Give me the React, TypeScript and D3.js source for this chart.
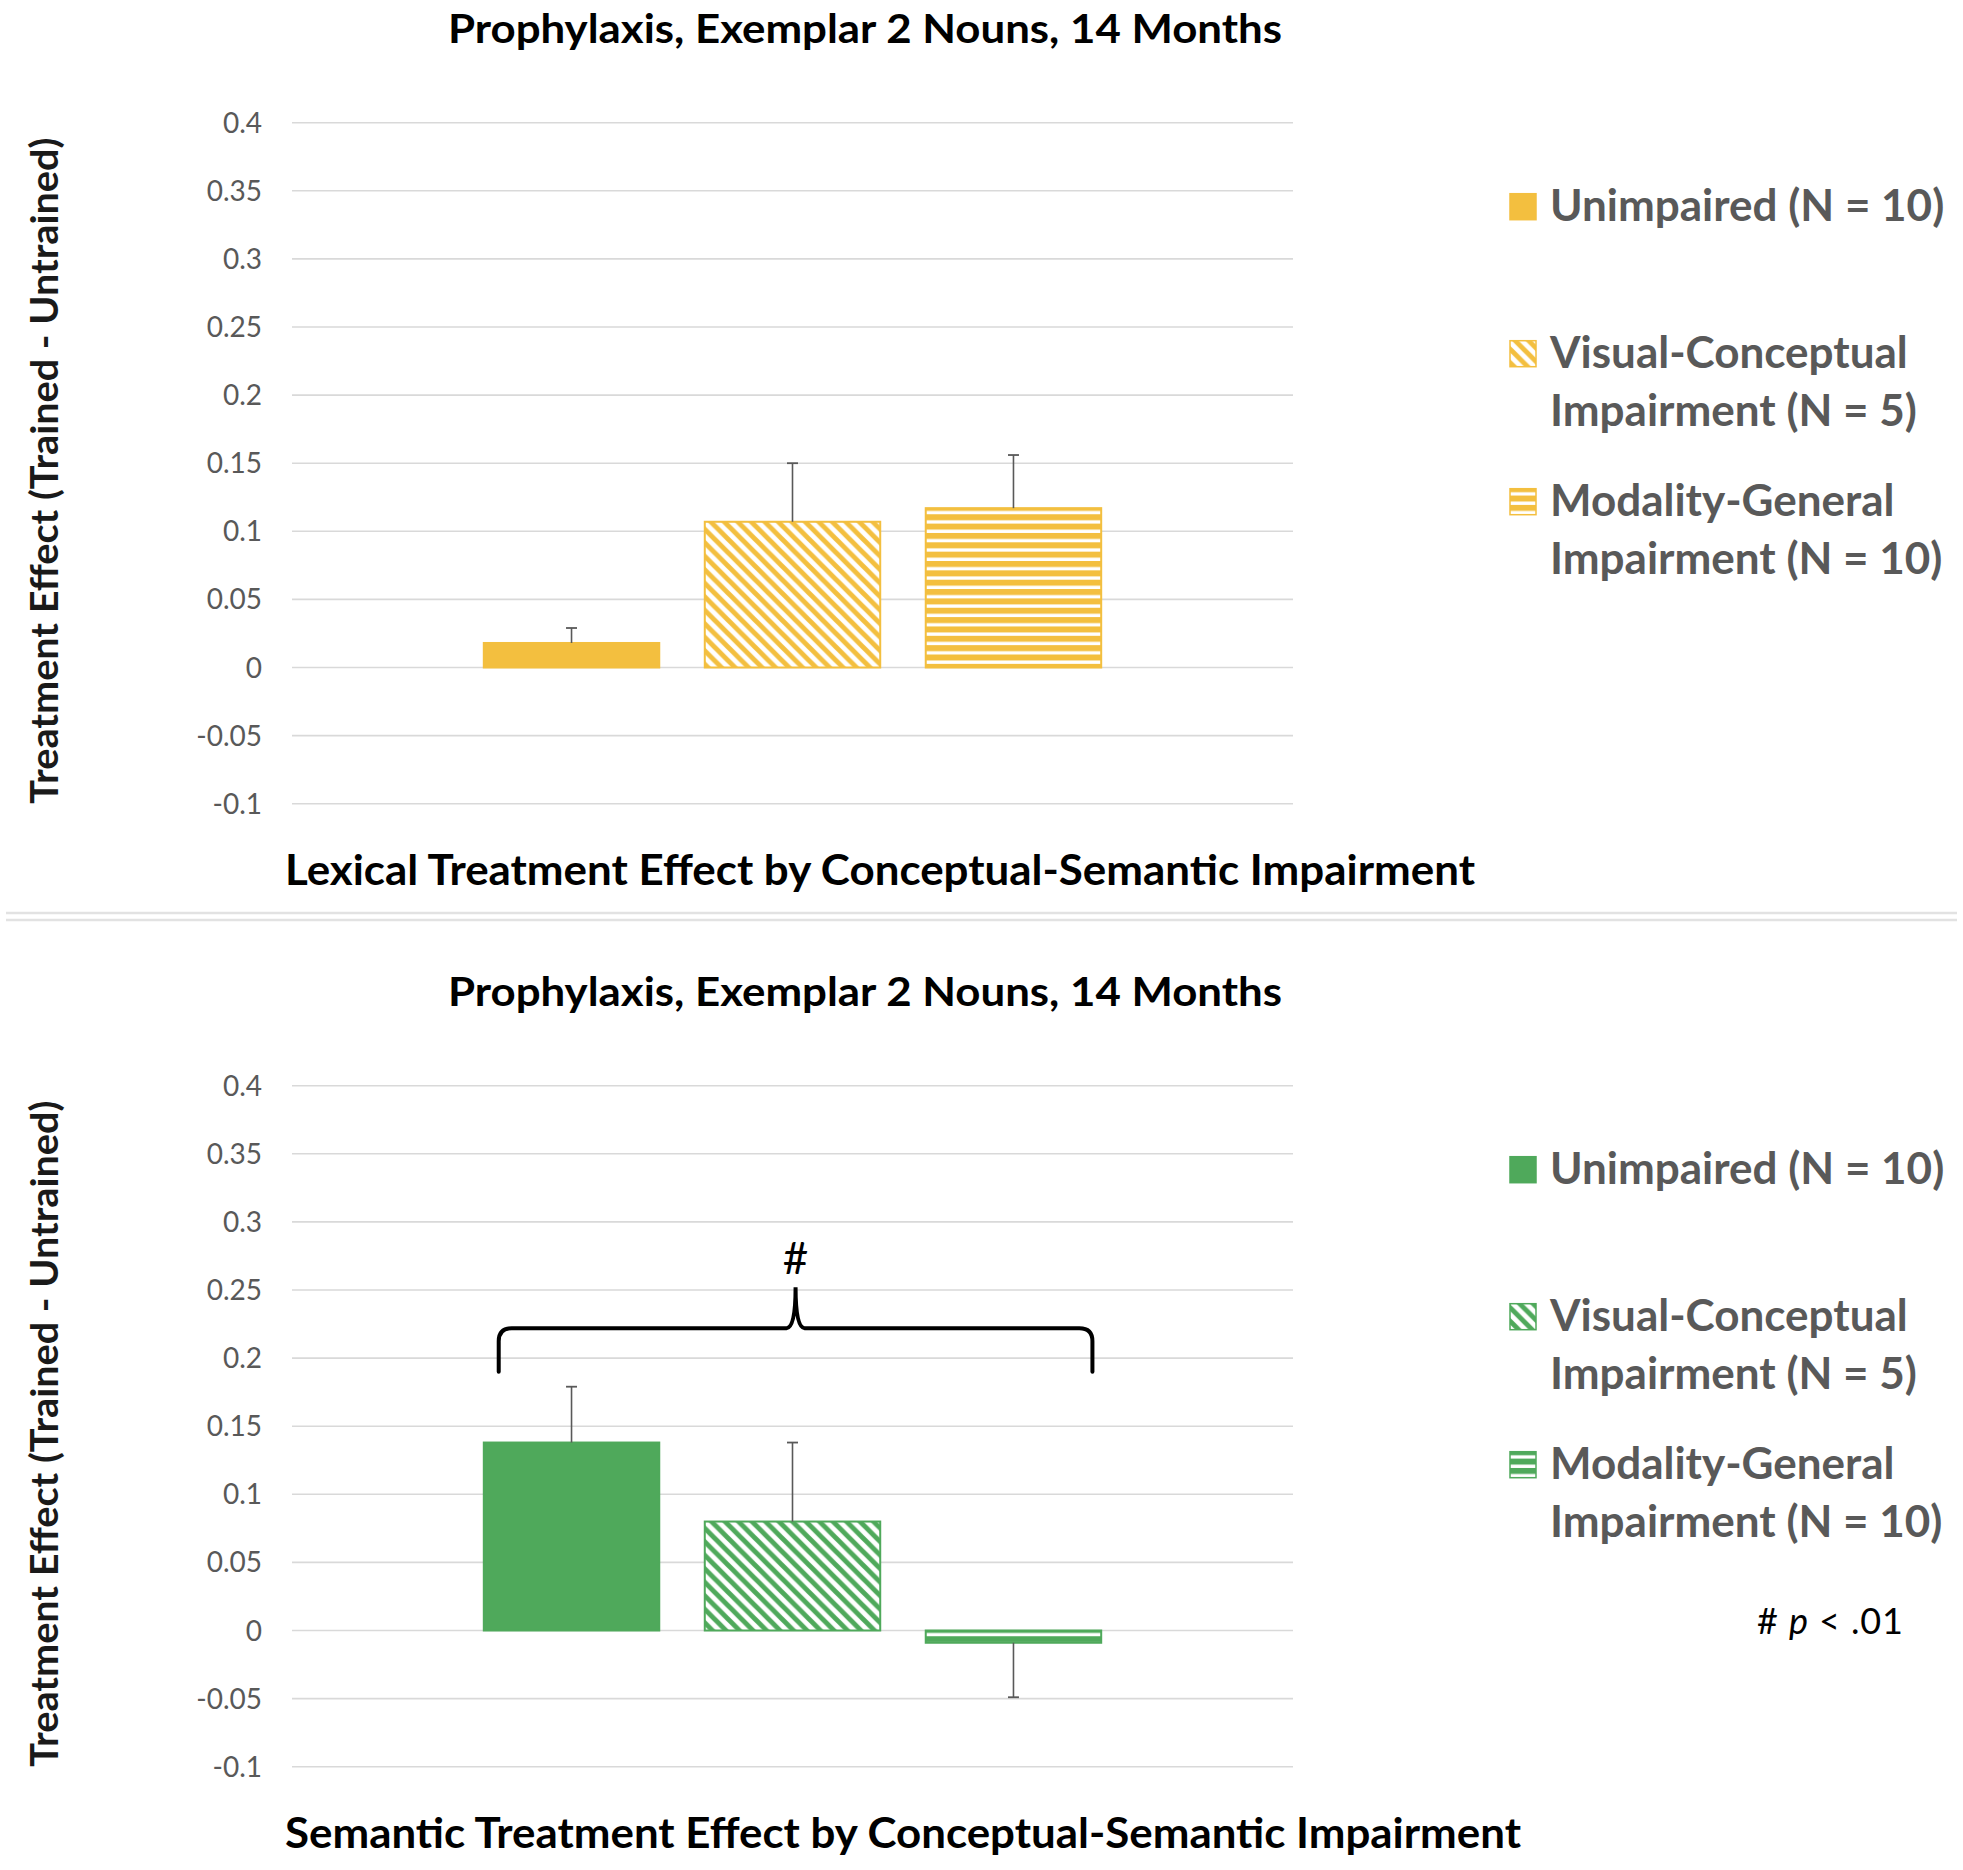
import React, { useEffect } from "react";
import * as d3 from "d3";

const seriesNames = [
  "Unimpaired (N = 10)",
  "Visual-Conceptual Impairment (N = 5)",
  "Modality-General Impairment (N = 10)",
];
const legendLines = [
  ["Unimpaired (N = 10)"],
  ["Visual-Conceptual", "Impairment (N = 5)"],
  ["Modality-General", "Impairment (N = 10)"],
];
const seriesPatterns = ["solid", "diagonal", "horizontal"];

const chartTitle = "Prophylaxis, Exemplar 2 Nouns, 14 Months";
const yAxisTitle = "Treatment Effect (Trained - Untrained)";

const lexicalValues = [0.018, 0.107, 0.117];
const lexicalErrors = [0.011, 0.043, 0.039];
const lexicalTitle = "Lexical Treatment Effect by Conceptual-Semantic Impairment";

const semanticValues = [0.138, 0.08, -0.009];
const semanticErrors = [0.041, 0.058, 0.04];
const semanticTitle = "Semantic Treatment Effect by Conceptual-Semantic Impairment";

const yTicks = [0.4, 0.35, 0.3, 0.25, 0.2, 0.15, 0.1, 0.05, 0, -0.05, -0.1];
const yTickLabels = ["0.4", "0.35", "0.3", "0.25", "0.2", "0.15", "0.1", "0.05", "0", "-0.05", "-0.1"];
const yDomain = [-0.1, 0.4];

// significance brace (semantic panel): levels in data units
const braceLevels = { end: 0.19, bar: 0.222, tip: 0.252, label: 0.262 };
const braceLabel = "#";

const YELLOW = "#F3BF3F";
const GREEN = "#4FA95B";
const FONT = "Lato, 'Open Sans', sans-serif";

function Patterns({ id, color }) {
  const P = 13.5;
  return (
    <>
      <pattern id={`${id}-diag`} patternUnits="userSpaceOnUse" width={P} height={P}>
        <rect width={P} height={P} fill="#fff" />
        <path
          d={`M-4,-4 L${P + 4},${P + 4} M-4,${P - 4} L4,${P + 4} M${P - 4},-4 L${P + 4},4`}
          stroke={color}
          strokeWidth={4.9}
          fill="none"
        />
      </pattern>
      <pattern id={`${id}-horiz`} patternUnits="userSpaceOnUse" width={10} height={9.35}>
        <rect width={10} height={9.35} fill="#fff" />
        <rect y={0} width={10} height={6} fill={color} />
      </pattern>
    </>
  );
}

function fillFor(kind, id, color) {
  if (kind === "diagonal") return `url(#${id}-diag)`;
  if (kind === "horizontal") return `url(#${id}-horiz)`;
  return color;
}

function Panel({ id, top, color, values, errors, xTitle, xTitleWidth, brace, note }) {
  const plotLeft = 292;
  const plotRight = 1293;
  const y = d3.scaleLinear().domain(yDomain).range([top + 681, top]);
  const x = d3
    .scaleBand()
    .domain(seriesNames)
    .range([plotLeft, plotRight])
    .paddingInner(0.206)
    .paddingOuter(0.868);
  const bw = x.bandwidth();

  let bracePath = null;
  let braceX = 0;
  if (brace) {
    const xl = x(seriesNames[0]) + bw * 0.085;
    const xr = x(seriesNames[2]) + bw * 0.95;
    const xm = (xl + xr) / 2;
    braceX = xm;
    const yE = y(braceLevels.end);
    const yB = y(braceLevels.bar);
    const yT = y(braceLevels.tip);
    const r = 13;
    const r2 = 9;
    const p = d3.path();
    p.moveTo(xl, yE);
    p.lineTo(xl, yB + r);
    p.quadraticCurveTo(xl, yB, xl + r, yB);
    p.lineTo(xm - r2, yB);
    p.quadraticCurveTo(xm, yB, xm, yT);
    p.quadraticCurveTo(xm, yB, xm + r2, yB);
    p.lineTo(xr - r, yB);
    p.quadraticCurveTo(xr, yB, xr, yB + r);
    p.lineTo(xr, yE);
    bracePath = p.toString();
  }

  const legendX = 1510;
  const legendTextX = 1550;
  const legendBaselines = [
    [top + 98],
    [top + 245, top + 303],
    [top + 393, top + 451],
  ];

  return (
    <g>
      <defs>
        <Patterns id={id} color={color} />
      </defs>
      <text
        x={448}
        y={top - 80}
        textLength={834}
        lengthAdjust="spacingAndGlyphs"
        fontFamily={FONT}
        fontWeight={700}
        fontSize={41}
        fill="#000"
      >
        {chartTitle}
      </text>
      {yTicks.map((t, i) => (
        <g key={t}>
          <line
            x1={plotLeft}
            x2={plotRight}
            y1={y(t)}
            y2={y(t)}
            stroke="#d9d9d9"
            strokeWidth={1.6}
          />
          <text
            x={262}
            y={y(t)}
            dy="0.36em"
            textAnchor="end"
            fontFamily={FONT}
            fontSize={28}
            fill="#595959"
          >
            {yTickLabels[i]}
          </text>
        </g>
      ))}
      <text
        transform={`translate(58,${top + 348}) rotate(-90)`}
        x={-333}
        textLength={666}
        lengthAdjust="spacingAndGlyphs"
        fontFamily={FONT}
        fontWeight={700}
        fontSize={38}
        fill="#1a1a1a"
      >
        {yAxisTitle}
      </text>
      <text
        x={285}
        y={top + 762}
        textLength={xTitleWidth}
        lengthAdjust="spacingAndGlyphs"
        fontFamily={FONT}
        fontWeight={700}
        fontSize={42}
        fill="#000"
      >
        {xTitle}
      </text>
      {seriesNames.map((s, i) => {
        const v = values[i];
        const y0 = y(0);
        const yv = y(v);
        const x0 = x(s);
        const cx = x0 + bw / 2;
        const errEnd = v >= 0 ? y(v + errors[i]) : y(v - errors[i]);
        return (
          <g key={s}>
            <rect
              x={x0}
              y={Math.min(y0, yv)}
              width={bw}
              height={Math.abs(yv - y0)}
              fill={fillFor(seriesPatterns[i], id, color)}
              stroke={color}
              strokeWidth={2}
            />
            <line x1={cx} x2={cx} y1={yv} y2={errEnd} stroke="#595959" strokeWidth={1.6} />
            <line
              x1={cx - 5.5}
              x2={cx + 5.5}
              y1={errEnd}
              y2={errEnd}
              stroke="#595959"
              strokeWidth={1.8}
            />
          </g>
        );
      })}
      {bracePath && (
        <>
          <path d={bracePath} fill="none" stroke="#000" strokeWidth={4} strokeLinecap="round" />
          <text
            x={braceX}
            y={y(braceLevels.label)}
            textAnchor="middle"
            fontFamily={FONT}
            fontSize={44}
            fill="#000"
          >
            {braceLabel}
          </text>
        </>
      )}
      {legendLines.map((lines, i) => (
        <g key={i}>
          <rect
            x={legendX}
            y={legendBaselines[i][0] - 27}
            width={26}
            height={26}
            fill={fillFor(seriesPatterns[i], id, color)}
            stroke={color}
            strokeWidth={1.5}
          />
          {lines.map((ln, j) => (
            <text
              key={j}
              x={legendTextX}
              y={legendBaselines[i][j]}
              fontFamily={FONT}
              fontWeight={700}
              fontSize={44}
              fill="#595959"
            >
              {ln}
            </text>
          ))}
        </g>
      ))}
      {note && (
        <text
          x={1757}
          y={top + 548}
          textLength={146}
          lengthAdjust="spacing"
          fontFamily={FONT}
          fontSize={36}
          fill="#000"
        >
          {"# "}
          <tspan fontStyle="italic">p</tspan>
          {" < .01"}
        </text>
      )}
    </g>
  );
}

export default function App() {
  useEffect(() => {
    document.body.style.margin = "0";
  }, []);
  return (
    <svg
      width={1963}
      height={1870}
      viewBox="0 0 1963 1870"
      style={{ position: "absolute", left: 0, top: 0, background: "#fff" }}
    >
      <rect width={1963} height={1870} fill="#fff" />
      <Panel
        id="lex"
        top={122.7}
        color={YELLOW}
        values={lexicalValues}
        errors={lexicalErrors}
        xTitle={lexicalTitle}
        xTitleWidth={1190}
      />
      <line x1={6} x2={1957} y1={913} y2={913} stroke="#e2e2e2" strokeWidth={2.5} />
      <line x1={6} x2={1957} y1={920} y2={920} stroke="#e2e2e2" strokeWidth={2.5} />
      <Panel
        id="sem"
        top={1085.7}
        color={GREEN}
        values={semanticValues}
        errors={semanticErrors}
        xTitle={semanticTitle}
        xTitleWidth={1236}
        brace
        note
      />
    </svg>
  );
}
